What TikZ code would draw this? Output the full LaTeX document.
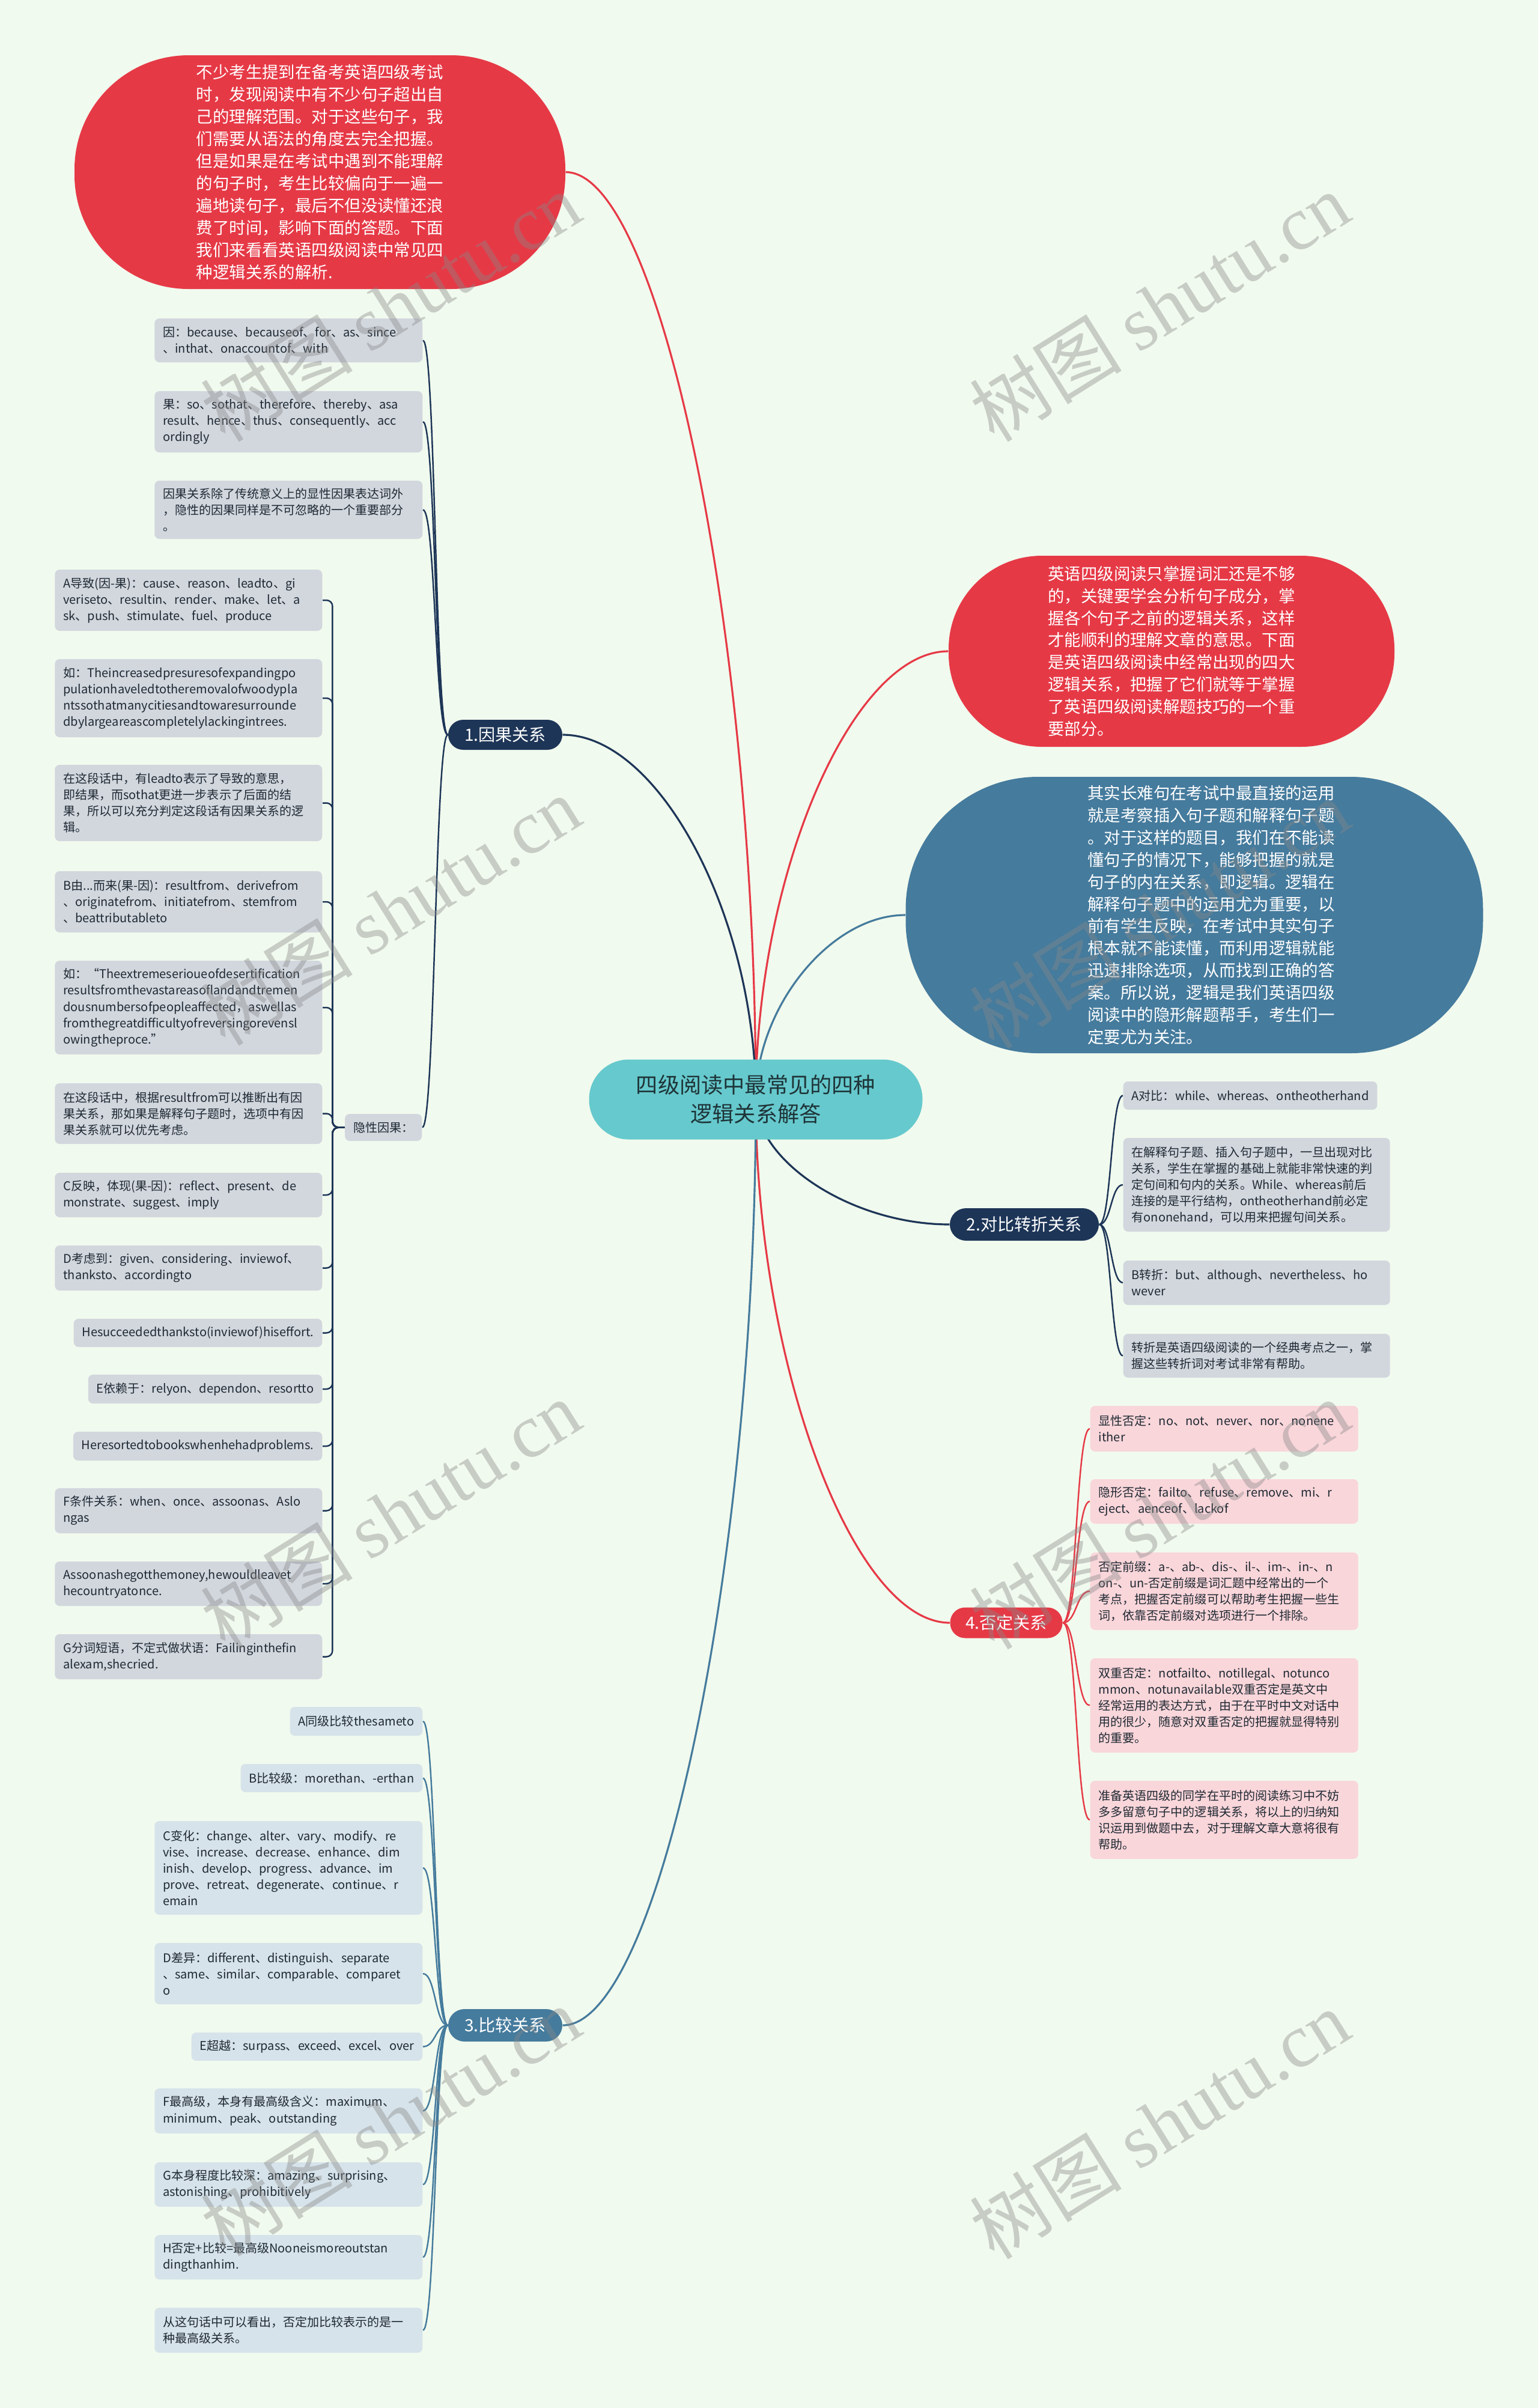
\documentclass[tikz,border=0pt]{standalone}
\usepackage{fontspec}
\setmainfont{Noto Sans CJK SC}
\newfontfamily\wmlat{Liberation Serif}
\usetikzlibrary{calc}
\hyphenpenalty=10000
\exhyphenpenalty=10000
\hbadness=10000
\hfuzz=10cm
\definecolor{bgc}{HTML}{F1FAEE}
\definecolor{redc}{HTML}{E63946}
\definecolor{navyc}{HTML}{1D3557}
\definecolor{bluec}{HTML}{457B9D}
\definecolor{tealc}{HTML}{66C9CD}
\definecolor{greyb}{HTML}{D2D7DE}
\definecolor{pinkb}{HTML}{F9D6DA}
\definecolor{blueb}{HTML}{D6E3EA}
\definecolor{txtc}{HTML}{1F2933}
\definecolor{rootc}{HTML}{1E3438}
\definecolor{wmc}{HTML}{888888}
\pgfdeclarelayer{bglayer}
\pgfsetlayers{bglayer,main}
\tikzset{
  leaf/.style={rounded corners=0.08cm, inner xsep=0.14cm, inner ysep=0.03cm, text=txtc, font=\fontsize{5.7}{7.7}\selectfont, align=left},
  gleaf/.style={leaf, fill=greyb},
  pleaf/.style={leaf, fill=pinkb},
  bleaf/.style={leaf, fill=blueb},
  branch/.style={text=white, font=\fontsize{8}{10}\selectfont, inner sep=0pt},
  blob/.style={text=white, font=\fontsize{7.8}{10.5}\selectfont, align=left, inner sep=0pt},
  link/.style={line width=0.9pt},
  sublink/.style={line width=0.7pt},
  wm/.style={text=wmc, text opacity=0.4, font=\fontsize{36}{40}\selectfont, rotate=32, inner sep=0pt}
}
\newcommand\lnkRoot[2]{\draw[link,#2] let \p1=(root.center), \p2=(#1) in (\p1) .. controls (\x1,{0.5*\y1+0.5*\y2}) and ({0.5*\x1+0.5*\x2},\y2) .. (\p2);}
\newcommand\lnkL[3]{\draw[sublink,#3] (#1.west) .. controls +(-0.21,0) and +(0.21,0) .. (#2.east);}
\newcommand\lnkR[4]{\draw[sublink,#3] (#1.east) .. controls +(#4,0) and +(-#4,0) .. (#2.west);}
\newcommand\lnkE[1]{\draw[sublink,navyc,rounded corners=0.1cm] (yx.west) -- ++(-0.20,0) |- (#1.east);}
\begin{document}
\begin{tikzpicture}[x=1cm,y=-1cm]
\useasboundingbox (0,0) rectangle (25.6,40.08);

% root
\node[fill=tealc, rounded corners=0.66cm, minimum width=5.55cm, minimum height=1.33cm, align=center, text=rootc, font=\fontsize{10.3}{13.7}\selectfont, inner sep=0pt] (root) at (12.58,18.30) {四级阅读中最常见的四种\\逻辑关系解答};

% big blobs
\node[blob, fill=redc, rounded corners=1.9cm, minimum width=8.17cm, minimum height=3.89cm] (intro) at (5.325,2.865) {不少考生提到在备考英语四级考试\\时，发现阅读中有不少句子超出自\\己的理解范围。对于这些句子，我\\们需要从语法的角度去完全把握。\\但是如果是在考试中遇到不能理解\\的句子时，考生比较偏向于一遍一\\遍地读句子，最后不但没读懂还浪\\费了时间，影响下面的答题。下面\\我们来看看英语四级阅读中常见四\\种逻辑关系的解析.};
\node[blob, fill=redc, rounded corners=1.55cm, minimum width=7.42cm, minimum height=3.18cm] (tipred) at (19.50,10.84) {英语四级阅读只掌握词汇还是不够\\的，关键要学会分析句子成分，掌\\握各个句子之前的逻辑关系，这样\\才能顺利的理解文章的意思。下面\\是英语四级阅读中经常出现的四大\\逻辑关系，把握了它们就等于掌握\\了英语四级阅读解题技巧的一个重\\要部分。};
\node[blob, fill=bluec, rounded corners=2.2cm, minimum width=9.61cm, minimum height=4.60cm, text width=3.55cm] (tipblue) at (19.88,15.23) {其实长难句在考试中最直接的运用\\就是考察插入句子题和解释句子题\\。对于这样的题目，我们在不能读\\懂句子的情况下，能够把握的就是\\句子的内在关系，即逻辑。逻辑在\\解释句子题中的运用尤为重要，以\\前有学生反映，在考试中其实句子\\根本就不能读懂，而利用逻辑就能\\迅速排除选项，从而找到正确的答\\案。所以说，逻辑是我们英语四级\\阅读中的隐形解题帮手，考生们一\\定要尤为关注。};

% branches
\node[branch, fill=navyc, rounded corners=0.25cm, minimum width=1.90cm, minimum height=0.50cm] (b1) at (8.41,12.23) {1.因果关系};
\node[branch, fill=navyc, rounded corners=0.27cm, minimum width=2.48cm, minimum height=0.54cm] (b2) at (17.05,20.38) {2.对比转折关系};
\node[branch, fill=redc, rounded corners=0.25cm, minimum width=1.87cm, minimum height=0.51cm] (b4) at (16.75,27.01) {4.否定关系};
\node[branch, fill=bluec, rounded corners=0.27cm, minimum width=1.90cm, minimum height=0.54cm] (b3) at (8.41,33.71) {3.比较关系};

% branch 1 children
\node[gleaf, anchor=east, text width=4.18cm, minimum height=0.73cm] (yin) at (7.04,5.665) {因：because、becauseof、for、as、since\\、inthat、onaccountof、with};
\node[gleaf, anchor=east, text width=4.18cm, minimum height=1.02cm] (guo) at (7.04,7.02) {果：so、sothat、therefore、thereby、asa\\result、hence、thus、consequently、acc\\ordingly};
\node[gleaf, anchor=east, text width=4.18cm, minimum height=0.97cm] (yg) at (7.04,8.485) {因果关系除了传统意义上的显性因果表达词外\\，隐性的因果同样是不可忽略的一个重要部分\\。};
\node[gleaf, anchor=east, minimum height=0.45cm] (yx) at (7.03,18.765) {隐性因果：};

% yinxing children
\node[gleaf, anchor=east, text width=4.17cm, minimum height=1.02cm] (ya) at (5.37,9.99) {A导致(因-果)：cause、reason、leadto、gi\\veriseto、resultin、render、make、let、a\\sk、push、stimulate、fuel、produce};
\node[gleaf, anchor=east, text width=4.17cm, minimum height=1.30cm] (yru1) at (5.37,11.62) {如：Theincreasedpresuresofexpandingpo\\pulationhaveledtotheremovalofwoodypla\\ntssothatmanycitiesandtowaresurrounde\\dbylargeareascompletelylackingintrees.};
\node[gleaf, anchor=east, text width=4.17cm, minimum height=1.27cm] (yzai1) at (5.37,13.365) {在这段话中，有leadto表示了导致的意思，\\即结果，而sothat更进一步表示了后面的结\\果，所以可以充分判定这段话有因果关系的逻\\辑。};
\node[gleaf, anchor=east, text width=4.17cm, minimum height=1.02cm] (yb) at (5.37,15.01) {B由...而来(果-因)：resultfrom、derivefrom\\、originatefrom、initiatefrom、stemfrom\\、beattributableto};
\node[gleaf, anchor=east, text width=4.17cm, minimum height=1.56cm] (yru2) at (5.37,16.77) {如：“Theextremeserioueofdesertification\\resultsfromthevastareasoflandandtremen\\dousnumbersofpeopleaffected，aswellas\\fromthegreatdifficultyofreversingorevensl\\owingtheproce.”};
\node[gleaf, anchor=east, text width=4.17cm, minimum height=1.01cm] (yzai2) at (5.37,18.535) {在这段话中，根据resultfrom可以推断出有因\\果关系，那如果是解释句子题时，选项中有因\\果关系就可以优先考虑。};
\node[gleaf, anchor=east, text width=4.17cm, minimum height=0.74cm] (yc) at (5.37,19.89) {C反映，体现(果-因)：reflect、present、de\\monstrate、suggest、imply};
\node[gleaf, anchor=east, text width=4.17cm, minimum height=0.75cm] (yd) at (5.37,21.105) {D考虑到：given、considering、inviewof、\\thanksto、accordingto};
\node[gleaf, anchor=east, minimum height=0.47cm] (yhe1) at (5.37,22.185) {Hesucceededthanksto(inviewof)hiseffort.};
\node[gleaf, anchor=east, minimum height=0.48cm] (ye) at (5.37,23.12) {E依赖于：relyon、dependon、resortto};
\node[gleaf, anchor=east, minimum height=0.48cm] (yhe2) at (5.37,24.07) {Heresortedtobookswhenhehadproblems.};
\node[gleaf, anchor=east, text width=4.17cm, minimum height=0.75cm] (yf) at (5.37,25.145) {F条件关系：when、once、assoonas、Aslo\\ngas};
\node[gleaf, anchor=east, text width=4.17cm, minimum height=0.74cm] (yas) at (5.37,26.36) {Assoonashegotthemoney,hewouldleavet\\hecountryatonce.};
\node[gleaf, anchor=east, text width=4.17cm, minimum height=0.75cm] (yg2) at (5.37,27.575) {G分词短语，不定式做状语：Failinginthefin\\alexam,shecried.};

% branch 2 children
\node[gleaf, anchor=west, minimum height=0.47cm] (ca) at (18.69,18.235) {A对比：while、whereas、ontheotherhand};
\node[gleaf, anchor=west, text width=4.16cm, minimum height=1.56cm] (cjie) at (18.69,19.72) {在解释句子题、插入句子题中，一旦出现对比\\关系，学生在掌握的基础上就能非常快速的判\\定句间和句内的关系。While、whereas前后\\连接的是平行结构，ontheotherhand前必定\\有ononehand，可以用来把握句间关系。};
\node[gleaf, anchor=west, text width=4.16cm, minimum height=0.74cm] (cb) at (18.69,21.35) {B转折：but、although、nevertheless、ho\\wever};
\node[gleaf, anchor=west, text width=4.16cm, minimum height=0.73cm] (czh) at (18.69,22.565) {转折是英语四级阅读的一个经典考点之一，掌\\握这些转折词对考试非常有帮助。};

% branch 4 children
\node[pleaf, anchor=west, text width=4.18cm, minimum height=0.76cm] (nxian) at (18.14,23.78) {显性否定：no、not、never、nor、nonene\\ither};
\node[pleaf, anchor=west, text width=4.18cm, minimum height=0.74cm] (nyin) at (18.14,24.99) {隐形否定：failto、refuse、remove、mi、r\\eject、aenceof、lackof};
\node[pleaf, anchor=west, text width=4.18cm, minimum height=1.29cm] (nqian) at (18.14,26.485) {否定前缀：a-、ab-、dis-、il-、im-、in-、n\\on-、un-否定前缀是词汇题中经常出的一个\\考点，把握否定前缀可以帮助考生把握一些生\\词，依靠否定前缀对选项进行一个排除。};
\node[pleaf, anchor=west, text width=4.18cm, minimum height=1.57cm] (nshuang) at (18.14,28.385) {双重否定：notfailto、notillegal、notunco\\mmon、notunavailable双重否定是英文中\\经常运用的表达方式，由于在平时中文对话中\\用的很少，随意对双重否定的把握就显得特别\\的重要。};
\node[pleaf, anchor=west, text width=4.18cm, minimum height=1.30cm] (nzhun) at (18.14,30.29) {准备英语四级的同学在平时的阅读练习中不妨\\多多留意句子中的逻辑关系，将以上的归纳知\\识运用到做题中去，对于理解文章大意将很有\\帮助。};

% branch 3 children
\node[bleaf, anchor=east, minimum height=0.48cm] (sa) at (7.04,28.65) {A同级比较thesameto};
\node[bleaf, anchor=east, minimum height=0.47cm] (sb) at (7.04,29.595) {B比较级：morethan、-erthan};
\node[bleaf, anchor=east, text width=4.18cm, minimum height=1.56cm] (sc) at (7.04,31.09) {C变化：change、alter、vary、modify、re\\vise、increase、decrease、enhance、dim\\inish、develop、progress、advance、im\\prove、retreat、degenerate、continue、r\\emain};
\node[bleaf, anchor=east, text width=4.18cm, minimum height=1.02cm] (sd) at (7.04,32.85) {D差异：different、distinguish、separate\\、same、similar、comparable、comparet\\o};
\node[bleaf, anchor=east, minimum height=0.47cm] (se) at (7.04,34.065) {E超越：surpass、exceed、excel、over};
\node[bleaf, anchor=east, text width=4.18cm, minimum height=0.75cm] (sf) at (7.04,35.135) {F最高级，本身有最高级含义：maximum、\\minimum、peak、outstanding};
\node[bleaf, anchor=east, text width=4.18cm, minimum height=0.74cm] (sg) at (7.04,36.36) {G本身程度比较深：amazing、surprising、\\astonishing、prohibitively};
\node[bleaf, anchor=east, text width=4.18cm, minimum height=0.74cm] (sh) at (7.04,37.57) {H否定+比较=最高级Nooneismoreoutstan\\dingthanhim.};
\node[bleaf, anchor=east, text width=4.18cm, minimum height=0.75cm] (scong) at (7.04,38.785) {从这句话中可以看出，否定加比较表示的是一\\种最高级关系。};

\begin{pgfonlayer}{bglayer}
\fill[bgc] (0,0) rectangle (25.6,40.08);
\lnkRoot{intro.east}{redc}
\lnkRoot{b1.east}{navyc}
\lnkRoot{tipred.west}{redc}
\lnkRoot{tipblue.west}{bluec}
\lnkRoot{b2.west}{navyc}
\lnkRoot{b4.west}{redc}
\lnkRoot{b3.east}{bluec}
\foreach \c in {yin,guo,yg,yx} {\lnkL{b1}{\c}{navyc}}
\foreach \c in {ya,yru1,yzai1,yb,yru2,yzai2,yc,yd,yhe1,ye,yhe2,yf,yas,yg2} {\lnkE{\c}}
\foreach \c in {ca,cjie,cb,czh} {\lnkR{b2}{\c}{navyc}{0.2}}
\foreach \c in {nxian,nyin,nqian,nshuang,nzhun} {\lnkR{b4}{\c}{redc}{0.23}}
\foreach \c in {sa,sb,sc,sd,se,sf,sg,sh,scong} {\lnkL{b3}{\c}{bluec}}
\end{pgfonlayer}

% watermarks
\foreach \wx/\wy [count=\wi] in {6.5/5.1,19.3/5.1,6.5/15.15,19.3/15.2,6.5/25.2,19.3/25.2,6.5/35.3,19.3/35.35}
  \node[wm] (wm\wi) at (\wx,\wy) {树图 {\wmlat shutu.cn}};
\end{tikzpicture}
\end{document}
